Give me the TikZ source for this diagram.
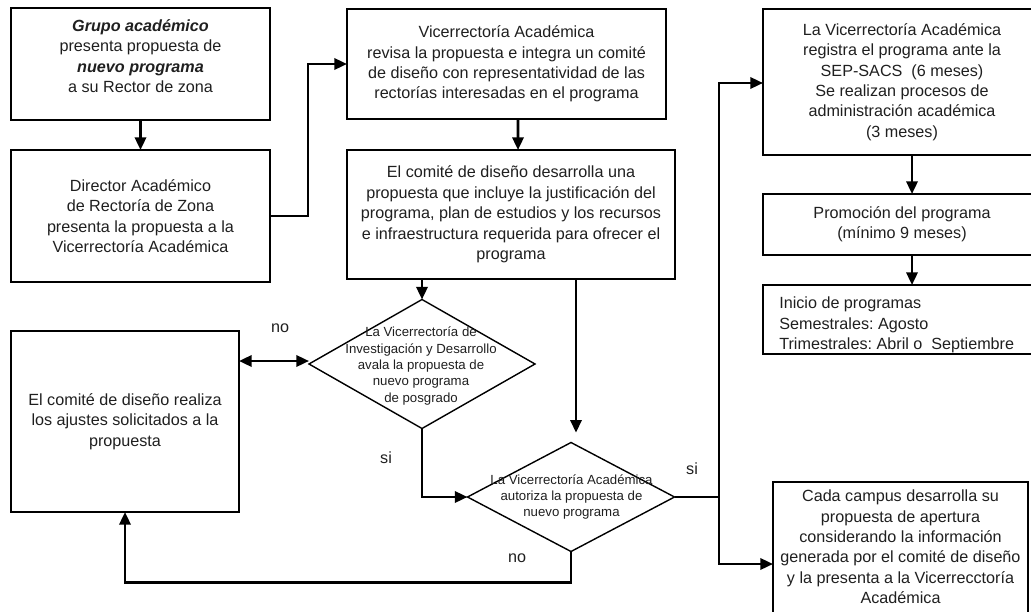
\documentclass[tikz,border=0pt]{standalone}
\usepackage{fontspec}
\setmainfont{Liberation Sans}
\usetikzlibrary{shapes.geometric,arrows.meta,calc}
\newdimen\pxu \pxu=0.025cm
\frenchspacing
\begin{document}
\begin{tikzpicture}[x=0.025cm,y=-0.025cm,
  box/.style={draw, line width=1.9pt, rectangle, inner sep=0pt, outer sep=0pt,
    align=center, text=black!88, font=\fontsize{11.5}{14.5}\selectfont},
  txt/.style={align=center, inner sep=0pt, text=black!88, font=\fontsize{11.5}{14.5}\selectfont},
  dec/.style={draw, line width=1pt, diamond, inner sep=0pt, outer sep=0pt},
  dtext/.style={align=center, inner sep=0pt, text=black!88, font=\fontsize{9.4}{11.6}\selectfont},
  arr/.style={line width=1.8pt, -{Triangle[length=9pt,width=8pt]}},
  arrboth/.style={line width=1.8pt, {Triangle[length=9pt,width=8pt]}-{Triangle[length=9pt,width=8pt]}},
  lab/.style={inner sep=0pt, text=black!88, font=\fontsize{11.5}{14}\selectfont}]
\useasboundingbox (0,0) rectangle (1031,611);
\clip (0,0) rectangle (1031,611);

% left column
\node[box, minimum width=259\pxu, minimum height=112\pxu] (a) at (140.5,64) {};
\node[txt] (at) at (140.5,56) {\textbf{\textit{Grupo académico}}\\presenta propuesta de\\\textbf{\textit{nuevo programa}}\\a su Rector de zona};
\node[box, minimum width=259\pxu, minimum height=132\pxu] (b) at (140.5,216)
  {Director Académico\\de Rectoría de Zona\\presenta la propuesta a la\\Vicerrectoría Académica};
\node[box, minimum width=228\pxu, minimum height=181\pxu] (e) at (125,421.5)
  {El comité de diseño realiza\\los ajustes solicitados a la\\propuesta};

% middle column
\node[box, minimum width=319\pxu, minimum height=110\pxu] (c) at (506.5,64)
  {Vicerrectoría Académica\\revisa la propuesta e integra un comité\\de diseño con representatividad de las\\rectorías interesadas en el programa};
\node[box, minimum width=328\pxu, minimum height=129\pxu] (d) at (511,214.5)
  {El comité de diseño desarrolla una\\propuesta que incluye la justificación del\\programa, plan de estudios y los recursos\\e infraestructura requerida para ofrecer el\\programa};

% decisions
\node[dec, minimum width=226\pxu, minimum height=129\pxu] (p1) at (422,364) {};
\node[dtext] (p1t) at (421,366) {La Vicerrectoría de\\Investigación y Desarrollo\\avala la propuesta de\\nuevo programa\\de posgrado};
\node[dec, minimum width=207\pxu, minimum height=109\pxu] (p2) at (571,497) {};
\node[dtext] (p2t) at (571.5,497) {La Vicerrectoría Académica\\autoriza la propuesta de\\nuevo programa};

% right column
\node[box, minimum width=278\pxu, minimum height=146\pxu] (f) at (902,82)
  {La Vicerrectoría Académica\\registra el programa ante la\\SEP-SACS\ \ (6 meses)\\Se realizan procesos de\\administración académica\\(3 meses)};
\node[box, minimum width=278\pxu, minimum height=61\pxu] (g) at (902,224.5)
  {Promoción del programa\\(mínimo 9 meses)};
\node[box, minimum width=278\pxu, minimum height=69\pxu] (h) at (902,319.5) {};
\node[txt, align=left, anchor=west] (ht) at (779,325)
  {Inicio de programas\\Semestrales: Agosto\\Trimestrales: Abril o\ \ Septiembre};
\node[box, minimum width=255\pxu, minimum height=138\pxu] (i) at (900.5,551) {};
\node[txt] (it) at (900.5,547)
  {Cada campus desarrolla su\\propuesta de apertura\\considerando la información\\generada por el comité de diseño\\y la presenta a la Vicerrecctoría\\Académica};

% junction of the "si" branch
\coordinate (jn) at (719,497);

% connectors
\draw[arr] (a.south) -- (b.north);
\draw[arr] (b.east) -- ++(38,0) |- (c.west);
\draw[arr] ($(c.south)+(11.5,0)$) -- ($(d.north)+(7,0)$);
\draw[arr] (p1.north |- d.south) -- (p1.north);
\draw[arr, shorten >=7pt] ($(d.south)+(65,0)$) -- ($(p2.north)+(5,0)$);
\draw[arrboth] (e.east |- 0,361) -- (p1.west |- 0,361);
\draw[arr] (p1.south) |- (p2.west);
\draw[arr] (p2.south) -- ++(0,31) -| (e.south);
\draw[arr] (p2.east) -- (jn) |- ($(f.west)+(0,1)$);
\draw[arr] (jn) |- ($(i.west)+(0,13)$);
\draw[arr] ($(f.south)+(10,0)$) -- ($(g.north)+(10,0)$);
\draw[arr] ($(g.south)+(10,0)$) -- ($(h.north)+(10,0)$);

% branch labels
\node[lab] (no1) at (280,328) {no};
\node[lab] (si1) at (386,458) {si};
\node[lab] (si2) at (692,469) {si};
\node[lab] (no2) at (517,558) {no};
\end{tikzpicture}
\end{document}
